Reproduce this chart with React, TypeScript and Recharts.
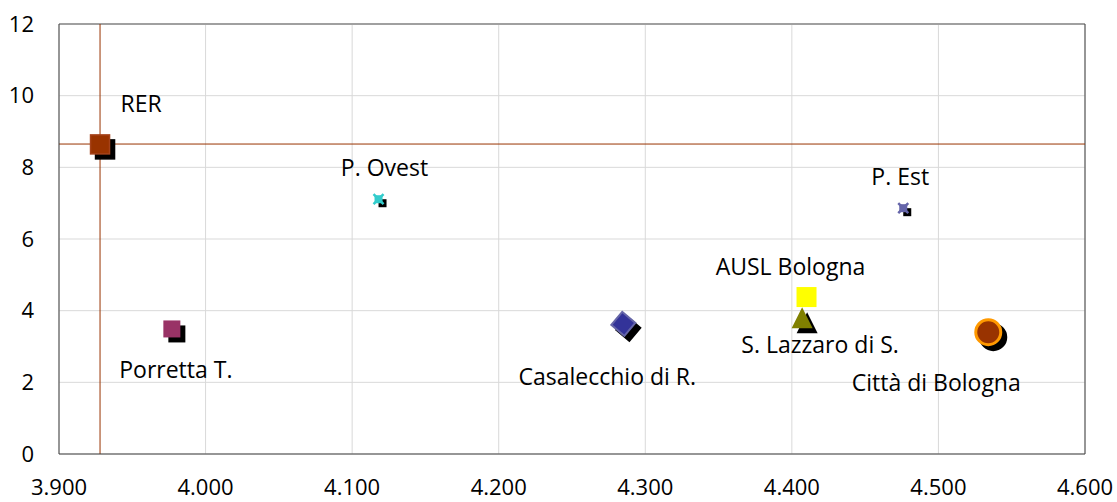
import React from 'react';
import { ScatterChart, Scatter, XAxis, YAxis, CartesianGrid, ReferenceLine } from 'recharts';

// ---- data ----
const names = ['RER', 'Porretta T.', 'P. Ovest', 'Casalecchio di R.', 'P. Est', 'S. Lazzaro di S.', 'AUSL Bologna', 'Città di Bologna'];
const xValues = [3928, 3977, 4118, 4285, 4476, 4407, 4410, 4534];
const yValues = [8.64, 3.49, 7.11, 3.63, 6.86, 3.8, 4.38, 3.4];
const xTicks = [3900, 4000, 4100, 4200, 4300, 4400, 4500, 4600];
const yTicks = [0, 2, 4, 6, 8, 10, 12];
const refX = 3928;
const refY = 8.65;

// ---- styling (not data) ----
const FONT = '"Open Sans", sans-serif';
type Style = { kind: string; fill: string; stroke?: string; size: number; shadow: boolean; ldx: number; ldy: number };
const styles: Record<string, Style> = {
  'RER': { kind: 'square', fill: '#993300', stroke: '#a5421a', size: 19, shadow: true, ldx: 41, ldy: -40 },
  'Porretta T.': { kind: 'square', fill: '#993366', size: 17, shadow: true, ldx: 4, ldy: 41 },
  'P. Ovest': { kind: 'x', fill: '#33cccc', size: 10, shadow: true, ldx: 6, ldy: -31 },
  'Casalecchio di R.': { kind: 'diamond', fill: '#333399', stroke: '#6666a8', size: 17, shadow: true, ldx: -16, ldy: 53 },
  'P. Est': { kind: 'x', fill: '#6666aa', size: 10, shadow: true, ldx: -3, ldy: -31 },
  'S. Lazzaro di S.': { kind: 'triangle', fill: '#808000', size: 21, shadow: true, ldx: 18, ldy: 27 },
  'AUSL Bologna': { kind: 'square', fill: '#ffff00', size: 20, shadow: false, ldx: -16, ldy: -30 },
  'Città di Bologna': { kind: 'circle', fill: '#993300', stroke: '#ff9900', size: 25, shadow: true, ldx: -52, ldy: 51 },
};

function marker(kind: string, cx: number, cy: number, s: number, fill: string, stroke?: string, isShadow = false) {
  const h = s / 2;
  if (kind === 'square') {
    return <rect x={cx - h} y={cy - h} width={s} height={s} fill={fill} stroke={stroke} strokeWidth={stroke ? 1.5 : 0} />;
  }
  if (kind === 'x') {
    if (isShadow) {
      return <rect x={cx - h + 1} y={cy - h + 1} width={s - 2} height={s - 2} fill={fill} />;
    }
    return (
      <g>
        <rect x={cx - h + 1} y={cy - h + 1} width={s - 2} height={s - 2} fill={fill} />
        <path d={`M${cx - h},${cy - h}L${cx + h},${cy + h}M${cx + h},${cy - h}L${cx - h},${cy + h}`} stroke={fill} strokeWidth={2.5} />
      </g>
    );
  }
  if (kind === 'diamond') {
    return <rect x={cx - h} y={cy - h} width={s} height={s} fill={fill} stroke={stroke} strokeWidth={stroke ? 2 : 0} transform={`rotate(40 ${cx} ${cy})`} />;
  }
  if (kind === 'triangle') {
    return <path d={`M${cx},${cy - h}L${cx + h},${cy + h}L${cx - h},${cy + h}Z`} fill={fill} />;
  }
  if (kind === 'circle') {
    return <circle cx={cx} cy={cy} r={h} fill={fill} stroke={stroke} strokeWidth={stroke ? 3 : 0} />;
  }
  return null;
}

function makeShape(name: string) {
  const st = styles[name];
  return (props: any) => {
    const { cx, cy } = props;
    if (cx == null || cy == null) return null;
    const off = st.size > 14 ? 5 : 4;
    return (
      <g>
        {st.shadow && marker(st.kind, cx + off, cy + off, st.size, '#000000', st.stroke ? '#000000' : undefined, true)}
        {marker(st.kind, cx, cy, st.size, st.fill, st.stroke)}
        <text x={cx + st.ldx} y={cy + st.ldy} dy="0.35em" textAnchor="middle" fontFamily={FONT} fontSize={23} fill="#000000">
          {name}
        </text>
      </g>
    );
  };
}

const seriesData = names.map((n, i) => ({ name: n, data: [{ x: xValues[i], y: yValues[i] }] }));

export default function App() {
  return (
    <div style={{ position: 'absolute', left: 0, top: 0, background: '#ffffff' }}>
      <ScatterChart width={1117} height={502} margin={{ top: 24, right: 32, left: 0, bottom: 0 }}>
        <CartesianGrid stroke="#d9d9d9" strokeWidth={1} />
        <XAxis
          type="number"
          dataKey="x"
          domain={[3900, 4600]}
          ticks={xTicks}
          tickFormatter={(v: number) => (v / 1000).toFixed(3)}
          axisLine={{ stroke: '#404040', strokeWidth: 1 }}
          tickLine={false}
          tickSize={0}
          tickMargin={25}
          height={48}
          tick={{ fill: '#000000', fontSize: 22, fontFamily: FONT }}
          allowDataOverflow
        />
        <YAxis
          type="number"
          dataKey="y"
          domain={[0, 12]}
          ticks={yTicks}
          axisLine={{ stroke: '#404040', strokeWidth: 1 }}
          tickLine={false}
          tickSize={0}
          tickMargin={25}
          width={59}
          tick={{ fill: '#000000', fontSize: 22, fontFamily: FONT }}
          allowDataOverflow
        />
        <ReferenceLine y={12} stroke="#a0a0a0" strokeWidth={2} />
        <ReferenceLine x={4600} stroke="#404040" strokeWidth={1} />
        <ReferenceLine x={refX} stroke="#993300" strokeWidth={1} />
        <ReferenceLine y={refY} stroke="#993300" strokeWidth={1} />
        {seriesData.map((s) => (
          <Scatter key={s.name} name={s.name} data={s.data} shape={makeShape(s.name)} isAnimationActive={false} />
        ))}
      </ScatterChart>
    </div>
  );
}
